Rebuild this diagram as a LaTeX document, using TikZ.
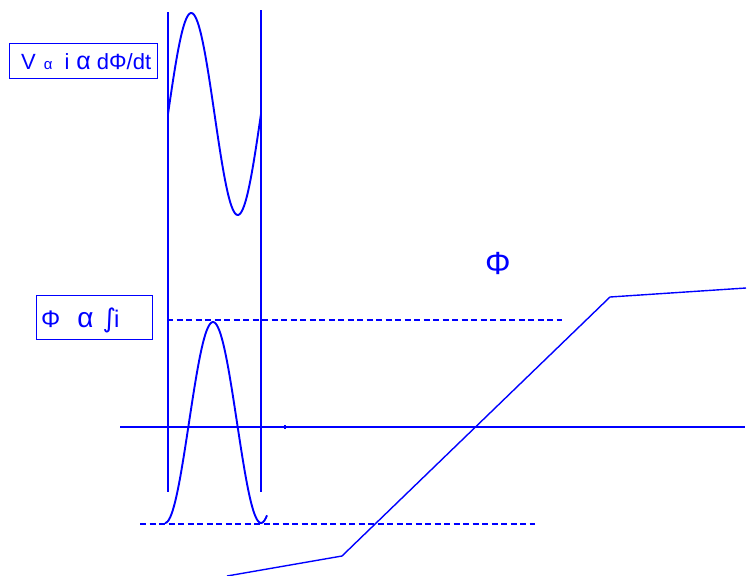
\documentclass[tikz,border=0pt]{standalone}
\usepackage{fontspec}
\setmainfont{Liberation Sans}
\newfontfamily\dejavu{DejaVu Sans}
\begin{document}
\begin{tikzpicture}[x=1pt,y=-1pt,
  ink/.style={draw=blue, line width=1.1pt},
  curve/.style={draw=blue, line width=1.9pt},
  dashline/.style={draw=blue, line width=1.2pt, dash pattern=on 6pt off 3.5pt},
  labelbox/.style={draw=blue, line width=1.1pt, inner sep=0pt, anchor=north west},
  txt/.style={text=blue, inner sep=0pt}]
\useasboundingbox (0,0) rectangle (748,576);
% boxes
\node[labelbox, minimum width=148pt, minimum height=35pt] (b1) at (9,43) {};
\node[txt, anchor=base west, font=\fontsize{22}{22}\selectfont] (t1) at (21,69)
  {V\hspace{8pt}{\fontsize{15}{15}\selectfont α}\hspace{12pt}i\hspace{7pt}{\fontsize{25}{25}\selectfont α}\hspace{6pt}dΦ/dt};
\node[labelbox, minimum width=116pt, minimum height=44pt] (b2) at (36,295) {};
\node[txt, anchor=base west, font=\fontsize{24}{24}\selectfont] (t2) at (41,327)
  {Φ\hspace{17pt}{\fontsize{28}{28}\selectfont α}\hspace{9pt}{\dejavu\fontsize{26}{26}\selectfont ∫}\hspace{-2pt}i};
\node[txt, font=\fontsize{32}{32}\selectfont] (phi) at (498,263) {Φ};
% vertical lines
\coordinate (v1t) at (168,12); \coordinate (v1b) at (168,492);
\coordinate (v2t) at (261,10); \coordinate (v2b) at (261,492);
\draw[ink] (v1t) -- (v1b);
\draw[ink] (v2t) -- (v2b);
% axis
\coordinate (axl) at (120,427); \coordinate (axr) at (745,427);
\draw[ink] (axl) -- (axr);
\node[fill=blue, inner sep=0pt, minimum width=2.5pt, minimum height=3.5pt] (dot) at (285,427) {};
% dashed lines
\coordinate (d1l) at (167,320); \coordinate (d1r) at (562,320);
\coordinate (d2l) at (140,524); \coordinate (d2r) at (535,524);
\draw[dashline] (d1l) -- (d1r);
\draw[dashline] (d2l) -- (d2r);
% sine
\draw[curve, smooth, samples=80, domain=0:93] plot ({168+\x}, {114-101*sin(3.8710*\x)});
% bell
\draw[curve, smooth, samples=80, domain=0:102] plot ({165+\x}, {523-100.5*(1-cos(3.75*\x))});
% magnetisation line
\coordinate (m1) at (227,576); \coordinate (m2) at (342,556);
\coordinate (m3) at (610,297); \coordinate (m4) at (746,288);
\draw[ink, line width=1.4pt] (m1) -- (m2) -- (m3) -- (m4);
\end{tikzpicture}
\end{document}
